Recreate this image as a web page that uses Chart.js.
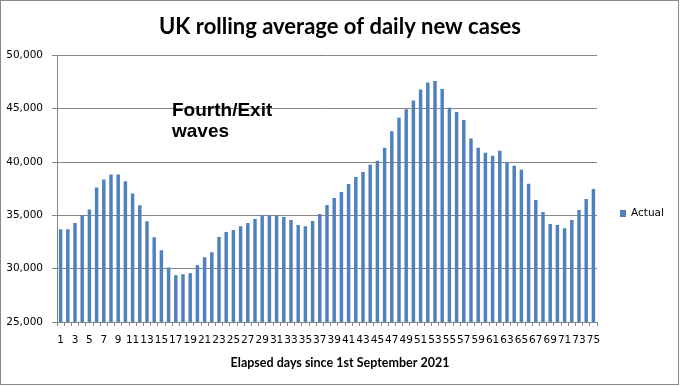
<!DOCTYPE html>
<html><head><meta charset="utf-8">
<script src="https://cdn.jsdelivr.net/npm/chart.js@4"></script>
<style>html,body{margin:0;padding:0;background:#fff}#wrap{width:680px;height:387px;position:relative}</style>
</head><body><div id="wrap"><canvas id="c" width="680" height="387"></canvas></div>
<script>
const days = ['1','2','3','4','5','6','7','8','9','10','11','12','13','14','15','16','17','18','19','20','21','22','23','24','25','26','27','28','29','30','31','32','33','34','35','36','37','38','39','40','41','42','43','44','45','46','47','48','49','50','51','52','53','54','55','56','57','58','59','60','61','62','63','64','65','66','67','68','69','70','71','72','73','74','75'];
const actual = [33690,33690,34280,35000,35560,37620,38370,38840,38840,38190,
  37060,35940,34440,32940,31720,30120,29380,29470,29560,30310,
  31070,31540,32960,33430,33620,33990,34280,34650,35000,35000,
  35000,34840,34560,34090,33990,34470,35130,35970,36630,37190,
  37940,38590,39060,39750,40130,41350,42880,44160,44940,45780,
  46810,47450,47600,46860,45080,44700,43950,42200,41350,40880,
  40600,41060,40000,39660,39280,37960,36450,35310,34180,34090,
  33800,34560,35500,36540,37480];
const yMin = 25000, yMax = 50000, yStep = 5000;
const chartTitle = 'UK rolling average of daily new cases';
const xTitle = 'Elapsed days since 1st September 2021';
const seriesName = 'Actual';
const noteLines = ['Fourth/Exit', 'waves'];

const BAR = '#4F81BD', GRID = '#868686';
const axisFont = {family: 'DejaVu Sans', size: 10.5};

const extras = {
  id: 'extras',
  beforeDraw(chart) {
    const ctx = chart.ctx;
    ctx.save(); ctx.fillStyle = '#fff'; ctx.fillRect(0, 0, chart.width, chart.height); ctx.restore();
  },
  afterDraw(chart) {
    const ctx = chart.ctx;
    ctx.save();
    ctx.strokeStyle = '#888'; ctx.lineWidth = 1;
    ctx.strokeRect(0.5, 0.5, 678, 384);
    // annotation
    ctx.fillStyle = '#000';
    ctx.font = 'bold 19px "Liberation Sans", Arial, sans-serif';
    ctx.textBaseline = 'alphabetic'; ctx.textAlign = 'left';
    ctx.fillText(noteLines[0], 172, 116);
    ctx.fillText(noteLines[1], 172, 137);
    // legend
    ctx.fillStyle = BAR;
    ctx.fillRect(620, 210, 6, 7);
    ctx.fillStyle = '#000';
    ctx.font = '10.5px "DejaVu Sans", sans-serif';
    ctx.textBaseline = 'middle';
    ctx.fillText(chart.data.datasets[0].label, 631, 213.5);
    ctx.restore();
  }
};

new Chart(document.getElementById('c'), {
  type: 'bar',
  data: {labels: days, datasets: [{label: seriesName, data: actual, backgroundColor: BAR, borderWidth: 0,
    barPercentage: 0.48, categoryPercentage: 1, yAxisID: 'y'}]},
  options: {
    responsive: false, animation: false, devicePixelRatio: 1,
    layout: {padding: {left: 0, right: 0, top: 0, bottom: 0}},
    plugins: {
      legend: {display: false},
      tooltip: {enabled: false},
      title: {display: true, text: chartTitle, color: '#000',
        font: {family: 'Lato', weight: 'bold', size: 22}, padding: {top: 14, bottom: 15}},
      subtitle: {display: true, position: 'bottom', text: xTitle, color: '#000',
        font: {family: 'Lato', weight: 'bold', size: 12.5}, padding: {top: 0, bottom: 17}}
    },
    scales: {
      x: {
        grid: {display: true, drawOnChartArea: false, drawTicks: true, tickLength: 4, offset: true, color: GRID},
        border: {display: true, color: GRID},
        ticks: {autoSkip: false, maxRotation: 0, minRotation: 0, color: '#000', font: axisFont, padding: 8,
          callback: (v, i) => (i % 2 === 0 ? days[i] : '')},
        afterFit: s => { s.height = 33; }
      },
      y: {
        position: 'left',
        min: yMin, max: yMax,
        grid: {color: GRID, drawTicks: true, tickLength: 5, tickColor: GRID},
        border: {display: true, color: GRID},
        ticks: {stepSize: yStep, color: '#000', font: axisFont, padding: 9,
          callback: v => v.toLocaleString('en-US')},
        afterFit: s => { s.width = 57; }
      },
      legendSpace: {
        position: 'right', display: true,
        grid: {display: false, drawTicks: false}, border: {display: false},
        ticks: {display: false},
        afterFit: s => { s.width = 83; }
      }
    }
  },
  plugins: [extras]
});
</script></body></html>
